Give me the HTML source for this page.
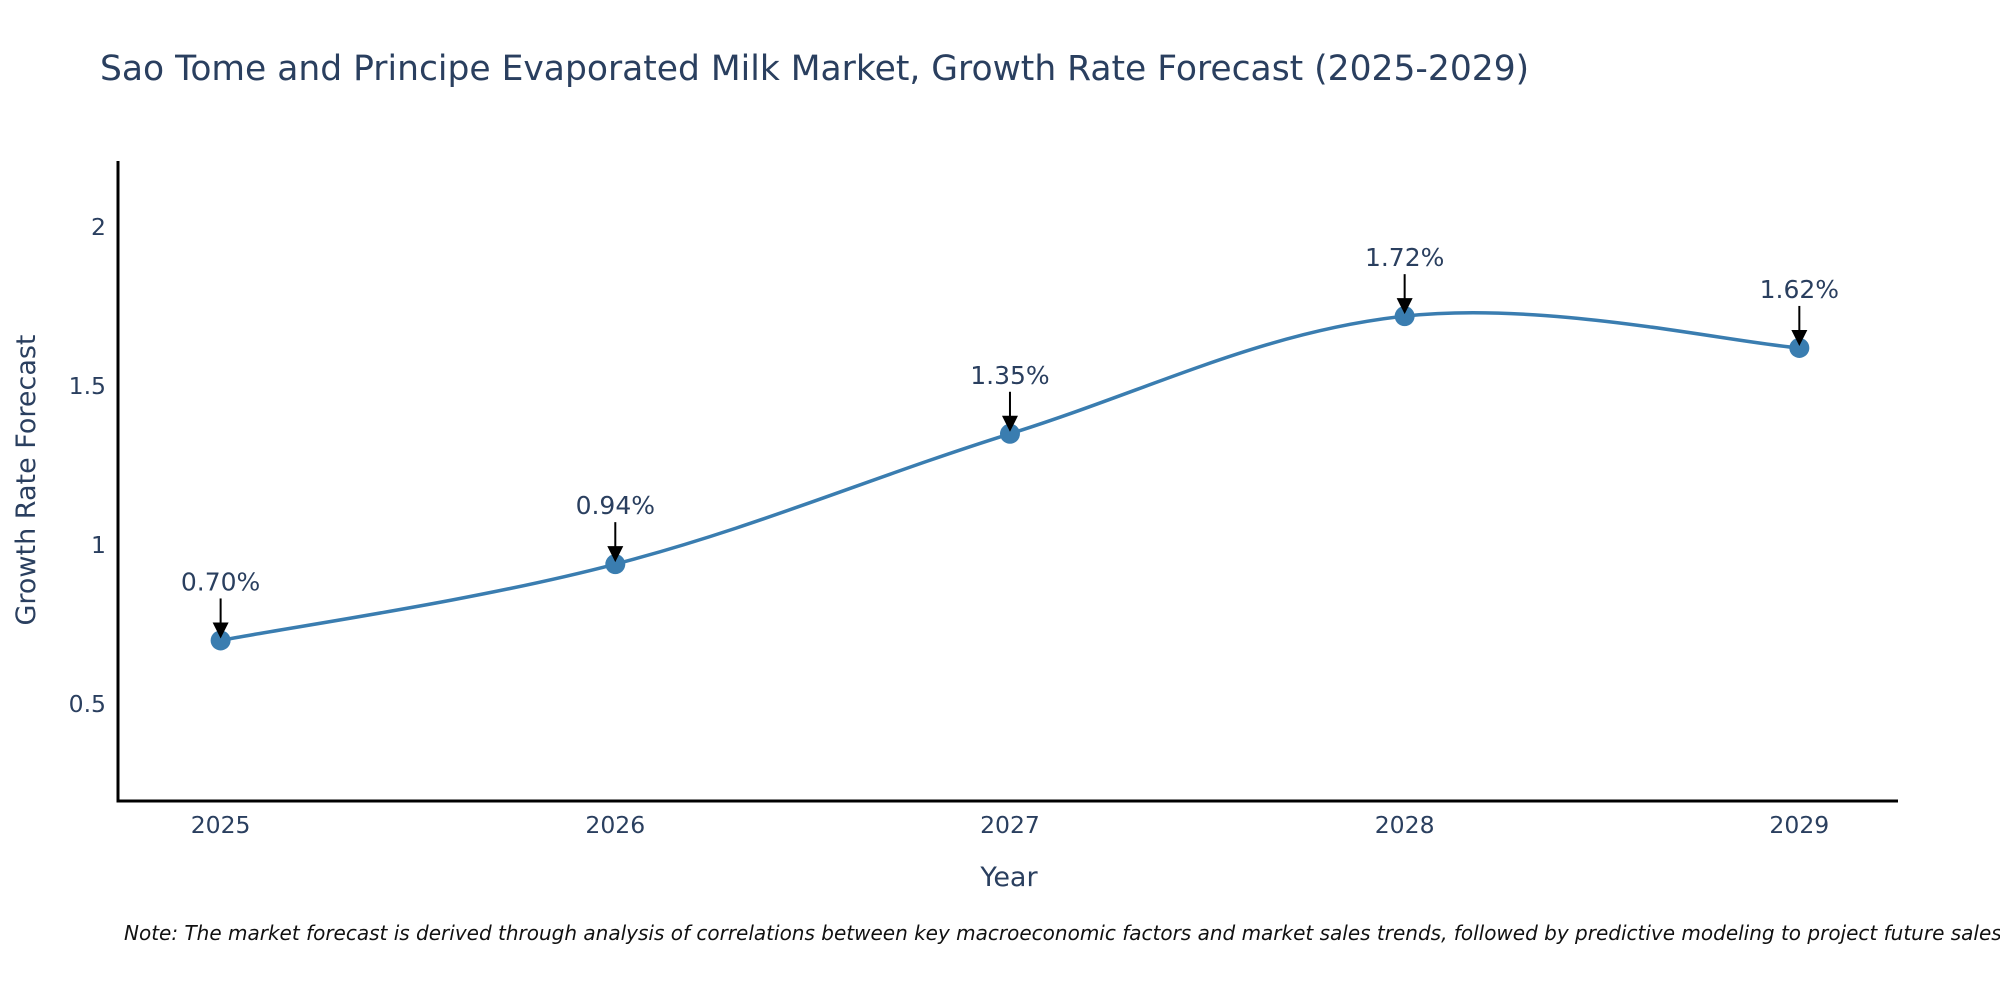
<!DOCTYPE html>
<html><head><meta charset="utf-8"><style>
html,body{margin:0;padding:0;background:#fff;}
svg{display:block;font-family:"DejaVu Sans","Liberation Sans",sans-serif;}
</style></head><body>
<svg id="chart" width="2000" height="1000" viewBox="0 0 2000 1000">
<text x="100" y="80" font-size="34.5" fill="#2a3f5f">Sao Tome and Principe Evaporated Milk Market, Growth Rate Forecast (2025-2029)</text>
<g id="plot"></g>
<text x="1009" y="886" font-size="27" fill="#2a3f5f" text-anchor="middle">Year</text>
<text transform="translate(35,480) rotate(-90)" font-size="27" fill="#2a3f5f" text-anchor="middle">Growth Rate Forecast</text>
<text x="124" y="940" font-size="20" font-style="italic" fill="#111">Note: The market forecast is derived through analysis of correlations between key macroeconomic factors and market sales trends, followed by predictive modeling to project future sales.</text>
</svg>
<script>
const years = [2025, 2026, 2027, 2028, 2029];
const growth = [0.70, 0.94, 1.35, 1.72, 1.62];
const labels = ["0.70%", "0.94%", "1.35%", "1.72%", "1.62%"];
const yTicks = [0.5, 1, 1.5, 2];
const yTickLabels = ["0.5", "1", "1.5", "2"];

const NS = "http://www.w3.org/2000/svg";
const L = 118, R = 1898, T = 161, B = 801;
const xMin = 2024.74, xMax = 2029.25, yMin = 0.195, yMax = 2.208;
const xs = v => L + (v - xMin) / (xMax - xMin) * (R - L);
const ys = v => B - (v - yMin) / (yMax - yMin) * (B - T);
const g = document.getElementById('plot');
function mk(tag, attrs, parent) {
  const e = document.createElementNS(NS, tag);
  for (const k in attrs) e.setAttribute(k, attrs[k]);
  (parent || g).appendChild(e);
  return e;
}
const yAxis = mk('line', {x1: L, y1: T, x2: L, y2: B + 1.5, stroke: '#000', 'stroke-width': 3});


const xAxis = mk('line', {x1: L - 1.5, y1: B, x2: R, y2: B, stroke: '#000', 'stroke-width': 3});


yTicks.forEach((t, i) => {
  const e = mk('text', {x: L - 12, y: ys(t) + 8, 'font-size': 23.5, fill: '#2a3f5f', 'text-anchor': 'end'});
  e.textContent = yTickLabels[i];
  
  
});
years.forEach(y => {
  const e = mk('text', {x: xs(y), y: 833, 'font-size': 23.5, fill: '#2a3f5f', 'text-anchor': 'middle'});
  e.textContent = String(y);
  
  
});
const pts = years.map((y, i) => [xs(y), ys(growth[i])]);
const s = 0.18;
let d = 'M' + pts[0][0] + ',' + pts[0][1];
for (let i = 0; i < pts.length - 1; i++) {
  const p0 = pts[Math.max(i - 1, 0)], p1 = pts[i], p2 = pts[i + 1], p3 = pts[Math.min(i + 2, pts.length - 1)];
  const c1 = [p1[0] + (p2[0] - p0[0]) * s, p1[1] + (p2[1] - p0[1]) * s];
  const c2 = [p2[0] - (p3[0] - p1[0]) * s, p2[1] - (p3[1] - p1[1]) * s];
  d += ' C' + c1 + ' ' + c2 + ' ' + p2;
}
const line = mk('path', {d: d, fill: 'none', stroke: '#3a7db0', 'stroke-width': 3.5});


pts.forEach((p, i) => {
  const c = mk('circle', {cx: p[0], cy: p[1], r: 10, fill: '#3a7db0'});
  
  
  const a = mk('line', {x1: p[0], y1: p[1] - 42, x2: p[0], y2: p[1] - 14, stroke: '#000', 'stroke-width': 2});
  
  
  const h = mk('polygon', {points: (p[0] - 8) + ',' + (p[1] - 18) + ' ' + (p[0] + 8) + ',' + (p[1] - 18) + ' ' + p[0] + ',' + (p[1] - 2), fill: '#000'});
  
  
  const t = mk('text', {x: p[0], y: p[1] - 50, 'font-size': 25, fill: '#2a3f5f', 'text-anchor': 'middle'});
  t.textContent = labels[i];
  
  
});
</script>
</body></html>
